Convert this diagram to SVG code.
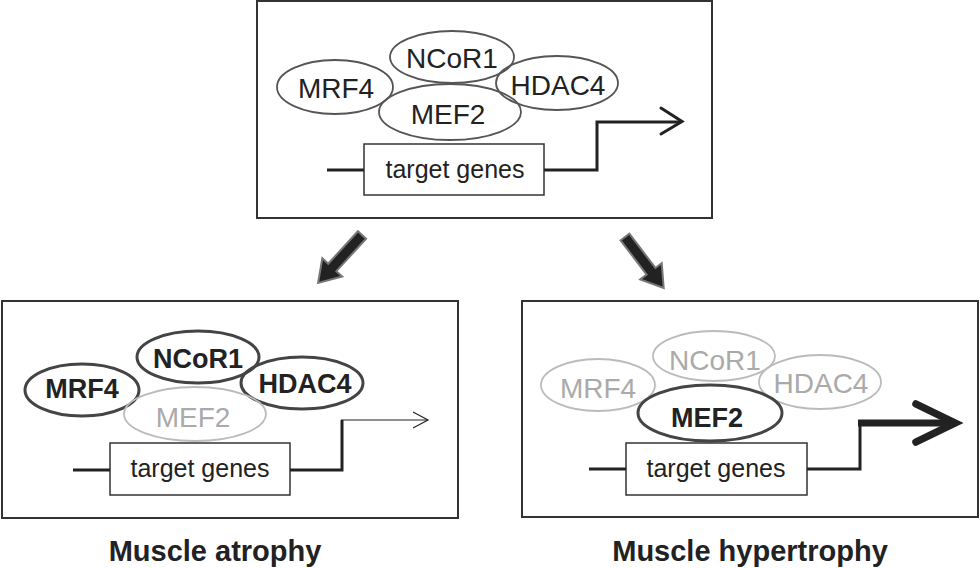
<svg xmlns="http://www.w3.org/2000/svg" width="980" height="568" viewBox="0 0 980 568">
<style>
  .box{fill:#fff;stroke:#333;stroke-width:2}
  .el{fill:none;stroke:#555;stroke-width:1.8}
  .elb{fill:none;stroke:#444;stroke-width:3}
  .elg{fill:none;stroke:#bbb;stroke-width:1.8}
  .t{font-family:"Liberation Sans",Arial,sans-serif;font-size:28px;fill:#222;text-anchor:middle}
  .tb{font-family:"Liberation Sans",Arial,sans-serif;font-size:27px;font-weight:bold;fill:#222;text-anchor:middle}
  .tg{font-family:"Liberation Sans",Arial,sans-serif;font-size:28px;fill:#aaa;text-anchor:middle}
  .gene{fill:#fff;stroke:#333;stroke-width:1.5}
  .gt{font-family:"Liberation Sans",Arial,sans-serif;font-size:25px;fill:#222;text-anchor:middle}
  .ln{fill:none;stroke:#222;stroke-width:3}
  .lbl{font-family:"Liberation Sans",Arial,sans-serif;font-size:29px;font-weight:bold;fill:#222;text-anchor:middle}
  .blk{fill:#222;stroke:#777;stroke-width:2;stroke-linejoin:miter}
</style>

<g id="top-panel">
  <rect class="box" x="257" y="1" width="455" height="217"/>
</g>
<g id="top-NCoR1"><ellipse class="el" cx="452" cy="57" rx="62" ry="26"/><text class="t" x="452" y="68">NCoR1</text></g>
<g id="top-MRF4"><ellipse class="el" cx="335" cy="87" rx="58" ry="27"/><text class="t" x="336" y="98">MRF4</text></g>
<g id="top-HDAC4"><ellipse class="el" cx="557" cy="83" rx="61" ry="27"/><text class="t" x="558" y="95">HDAC4</text></g>
<g id="top-MEF2"><ellipse class="el" cx="450" cy="112" rx="71" ry="28"/><text class="t" x="448" y="124">MEF2</text></g>
<g id="top-genes"><rect class="gene" x="364" y="144" width="180" height="51"/><text class="gt" x="455" y="178">target genes</text></g>

<g id="left-panel">
  <rect class="box" x="2" y="301" width="456" height="217"/>
</g>
<g id="left-NCoR1"><ellipse class="elb" cx="198" cy="357" rx="61" ry="26"/><text class="tb" x="198" y="368">NCoR1</text></g>
<g id="left-MRF4"><ellipse class="elb" cx="82" cy="390" rx="57" ry="26"/><text class="tb" x="82" y="398">MRF4</text></g>
<g id="left-HDAC4"><ellipse class="elb" cx="302" cy="383" rx="61" ry="26"/><text class="tb" x="305" y="393">HDAC4</text></g>
<g id="left-MEF2"><ellipse class="elg" cx="195" cy="414" rx="71" ry="27"/><text class="tg" x="193" y="427">MEF2</text></g>
<g id="left-genes"><rect class="gene" x="110" y="443" width="180" height="52"/><text class="gt" x="200" y="477">target genes</text></g>

<g id="right-panel">
  <rect class="box" x="522" y="301" width="456" height="216"/>
</g>
<g id="right-NCoR1"><ellipse class="elg" cx="714" cy="356" rx="61" ry="25"/><text class="tg" x="715" y="370">NCoR1</text></g>
<g id="right-MRF4"><ellipse class="elg" cx="598" cy="385" rx="57" ry="26"/><text class="tg" x="598" y="398">MRF4</text></g>
<g id="right-HDAC4"><ellipse class="elg" cx="820" cy="382" rx="61" ry="27"/><text class="tg" x="821" y="393">HDAC4</text></g>
<g id="right-MEF2"><ellipse class="elb" cx="710" cy="413" rx="72" ry="28"/><text class="tb" x="707" y="427">MEF2</text></g>
<g id="right-genes"><rect class="gene" x="626" y="443" width="181" height="52"/><text class="gt" x="716" y="477">target genes</text></g>

<g id="connectors">
  <line class="ln" x1="327" y1="170" x2="364" y2="170" stroke-width="3.5"/>
  <polyline class="ln" points="544,170 597,170 597,122 681,122" stroke-width="4"/>
  <polyline class="ln" points="661,108 682,121.5 661,134" stroke-width="5" stroke-linecap="round" stroke-linejoin="miter"/>
  <line class="ln" x1="73" y1="470" x2="110" y2="470"/>
  <polyline class="ln" points="290,470 342,470 342,420"/>
  <line x1="341" y1="420" x2="428" y2="420" stroke="#222" stroke-width="1.2"/>
  <polyline points="413,412 428,420 413,428" fill="none" stroke="#222" stroke-width="1.2"/>
  <line class="ln" x1="589" y1="469" x2="626" y2="469"/>
  <polyline class="ln" points="807,469 860,469 860,423"/>
  <line x1="858" y1="423" x2="952" y2="423" stroke="#222" stroke-width="7"/>
  <polyline points="916,404 955,423 916,442" fill="none" stroke="#222" stroke-width="7.5" stroke-linecap="round" stroke-linejoin="miter"/>
  <polygon class="blk" transform="translate(362,235) rotate(132.5)" points="0,-5.5 44,-5.5 44,-13.5 65,0 44,13.5 44,5.5 0,5.5"/>
  <polygon class="blk" transform="translate(625,237) rotate(52.8)" points="0,-5.5 43,-5.5 43,-13.5 64,0 43,13.5 43,5.5 0,5.5"/>
</g>

<g id="labels">
  <text class="lbl" x="215" y="561">Muscle atrophy</text>
  <text class="lbl" x="750" y="561">Muscle hypertrophy</text>
</g>
</svg>
